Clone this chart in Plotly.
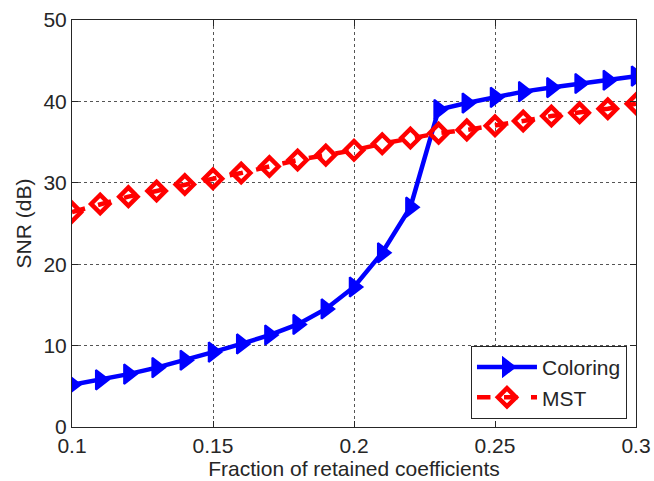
import plotly.graph_objects as go

x = [0.10, 0.11, 0.12, 0.13, 0.14, 0.15, 0.16, 0.17, 0.18, 0.19, 0.20,
     0.21, 0.22, 0.23, 0.24, 0.25, 0.26, 0.27, 0.28, 0.29, 0.30]
coloring = [5.2, 5.8, 6.5, 7.3, 8.2, 9.2, 10.2, 11.3, 12.6, 14.5, 17.2,
            21.4, 27.0, 39.0, 39.8, 40.5, 41.2, 41.7, 42.2, 42.6, 43.1]
mst = [26.4, 27.4, 28.3, 29.0, 29.8, 30.5, 31.2, 32.0, 32.8, 33.4, 34.0,
       34.8, 35.5, 36.1, 36.5, 37.0, 37.6, 38.2, 38.6, 39.1, 39.7]
xticks = [0.1, 0.15, 0.2, 0.25, 0.3]
xticklabels = ["0.1", "0.15", "0.2", "0.25", "0.3"]
yticks = [0, 10, 20, 30, 40, 50]

FONT = "Liberation Sans, Arial, sans-serif"

fig = go.Figure()
fig.add_trace(go.Scatter(
    x=x, y=coloring, mode="lines+markers", name="Coloring",
    line=dict(color="#0000ff", width=4.5),
    marker=dict(symbol="triangle-right", size=17, color="#0000ff",
                line=dict(color="#0000ff", width=2)),
))
fig.add_trace(go.Scatter(
    x=x, y=mst, mode="lines+markers", name="MST",
    line=dict(color="#ff0000", width=4.5, dash="dash"),
    marker=dict(symbol="diamond-open", size=14, color="#ff0000",
                line=dict(color="#ff0000", width=4.5)),
))

axis_common = dict(
    showline=True, linecolor="#262626", linewidth=1, mirror="ticks",
    ticks="inside", ticklen=6, tickcolor="#262626",
    showgrid=True, gridcolor="#555555", griddash="dot", gridwidth=1,
    zeroline=False, automargin=False,
    tickfont=dict(family=FONT, size=21, color="#262626"),
)

fig.update_layout(
    width=654, height=481,
    margin=dict(l=72, r=18, t=20, b=54),
    paper_bgcolor="white", plot_bgcolor="white",
    font=dict(family=FONT, size=21, color="#262626"),
    xaxis=dict(range=[0.1, 0.3], tickvals=xticks, ticktext=xticklabels,
               title=dict(text="Fraction of retained coefficients", standoff=2,
                          font=dict(size=21)),
               **axis_common),
    yaxis=dict(range=[0, 50], tickvals=yticks,
               title=dict(text="SNR (dB)", standoff=6, font=dict(size=21)),
               **axis_common),
    legend=dict(x=0.984, y=0.02, xanchor="right", yanchor="bottom",
                bgcolor="white", bordercolor="#262626", borderwidth=1,
                font=dict(size=21), tracegroupgap=0, itemwidth=60),
    showlegend=True,
)

fig.write_html("out.html")
